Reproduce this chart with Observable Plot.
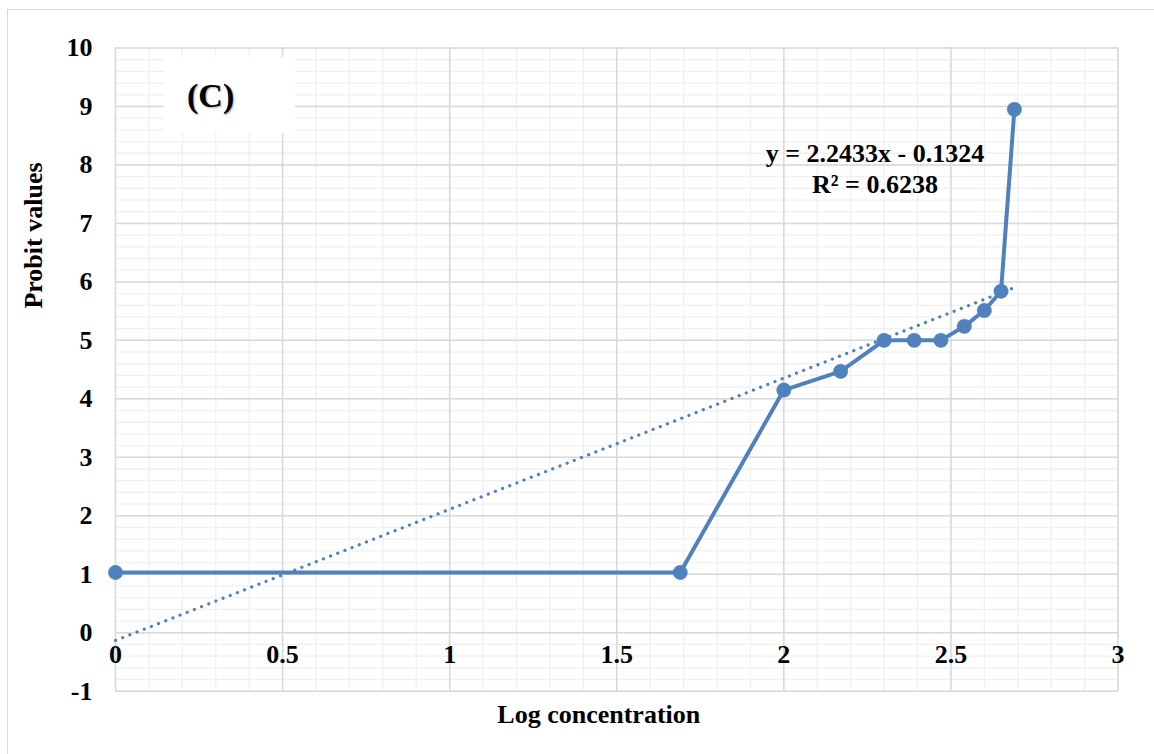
<!DOCTYPE html>
<html>
<head>
<meta charset="utf-8">
<script src="https://cdn.jsdelivr.net/npm/d3@7"></script>
<script src="https://cdn.jsdelivr.net/npm/@observablehq/plot@0.6"></script>
<style>
  html, body { margin: 0; padding: 0; background: #fff; overflow: hidden; }
  #wrap { position: relative; width: 1154px; height: 754px; }
  #frame { position: absolute; left: 7px; top: 9px; width: 1300px; height: 900px;
           border: 1.5px solid #d9d9d9; box-sizing: border-box; pointer-events: none; }
  .serif { font-family: "Liberation Serif", "Times New Roman", serif; font-weight: bold; color: #000; }
  #cbox { position: absolute; left: 164px; top: 57px; width: 131px; height: 76px; background: #fff; }
  #ctext { position: absolute; left: 187px; top: 79px; font-size: 34px; line-height: 34px;
           text-shadow: 1px 1px 2px rgba(0,0,0,0.35); white-space: nowrap; }
  #eq { position: absolute; left: 725px; top: 138px; width: 300px; text-align: center;
        font-size: 26px; line-height: 31px; white-space: nowrap; }
</style>
</head>
<body>
<div id="wrap">
  <div id="chart"></div>
  <div id="cbox"></div>
  <div id="ctext" class="serif">(C)</div>
  <div id="eq" class="serif"><div>y = 2.2433x - 0.1324</div><div>R² = 0.6238</div></div>
  <div id="frame"></div>
</div>
<script>
// Data
const logConc = [0, 1.69, 2, 2.17, 2.30, 2.39, 2.47, 2.54, 2.60, 2.65, 2.69];
const probit  = [1.03, 1.03, 4.15, 4.47, 5.0, 5.0, 5.0, 5.24, 5.51, 5.84, 8.95];

// Linear trendline shown on the chart
const slope = 2.2433;
const intercept = -0.1324;
const trendX = [0, 2.69];

// Axis ticks
const xTicks = [0, 0.5, 1, 1.5, 2, 2.5, 3];
const xTickLabels = ["0", "0.5", "1", "1.5", "2", "2.5", "3"];
const yTicks = [-1, 0, 1, 2, 3, 4, 5, 6, 7, 8, 9, 10];

const xLabel = "Log concentration";
const yLabel = "Probit values";

const points = logConc.map((x, i) => ({x, y: probit[i]}));
const trend = trendX.map(x => ({x, y: slope * x + intercept}));
const xMinor = d3.range(0, 3.0001, 0.1).map(v => +v.toFixed(2));
const yMinor = d3.range(-1, 10.0001, 0.2).map(v => +v.toFixed(2));

const font = "'Liberation Serif', 'Times New Roman', serif";
const blue = "#4f81bd";

const chart = Plot.plot({
  width: 1154,
  height: 754,
  marginLeft: 115,
  marginRight: 36.5,
  marginTop: 47.5,
  marginBottom: 63.3,
  x: {domain: [0, 3], axis: null},
  y: {domain: [-1, 10], axis: null},
  style: {background: "transparent"},
  marks: [
    Plot.ruleX(xMinor, {stroke: "#f0f0f0", strokeWidth: 1.3}),
    Plot.ruleY(yMinor, {stroke: "#f0f0f0", strokeWidth: 1.3}),
    Plot.ruleX(xTicks, {stroke: "#d9d9d9", strokeWidth: 1.5}),
    Plot.ruleY(yTicks, {stroke: "#d9d9d9", strokeWidth: 1.5}),
    Plot.line(points, {x: "x", y: "y", stroke: blue, strokeWidth: 4, strokeLinejoin: "round"}),
    Plot.dot(points, {x: "x", y: "y", r: 7.2, fill: blue, stroke: blue, strokeWidth: 0.5}),
    Plot.line(trend, {x: "x", y: "y", stroke: blue, strokeWidth: 3.2, strokeDasharray: "0.1 7.6", strokeLinecap: "round"}),
    Plot.text(yTicks, {y: d => d, text: d => String(d), frameAnchor: "left", textAnchor: "end", dx: -23,
      fontSize: 26, fontWeight: "bold", fontFamily: font, fill: "#000"}),
    Plot.text(xTicks, {x: d => d, text: (d, i) => xTickLabels[i], frameAnchor: "bottom", dy: -28,
      fontSize: 26, fontWeight: "bold", fontFamily: font, fill: "#000"}),
    Plot.text([xLabel], {text: d => d, frameAnchor: "bottom", dx: -18, dy: 32,
      fontSize: 26, fontWeight: "bold", fontFamily: font, fill: "#000"}),
    Plot.text([yLabel], {text: d => d, frameAnchor: "left", rotate: -90, dx: -82, dy: -61,
      fontSize: 26, fontWeight: "bold", fontFamily: font, fill: "#000"})
  ]
});
document.getElementById("chart").appendChild(chart);
</script>
</body>
</html>
